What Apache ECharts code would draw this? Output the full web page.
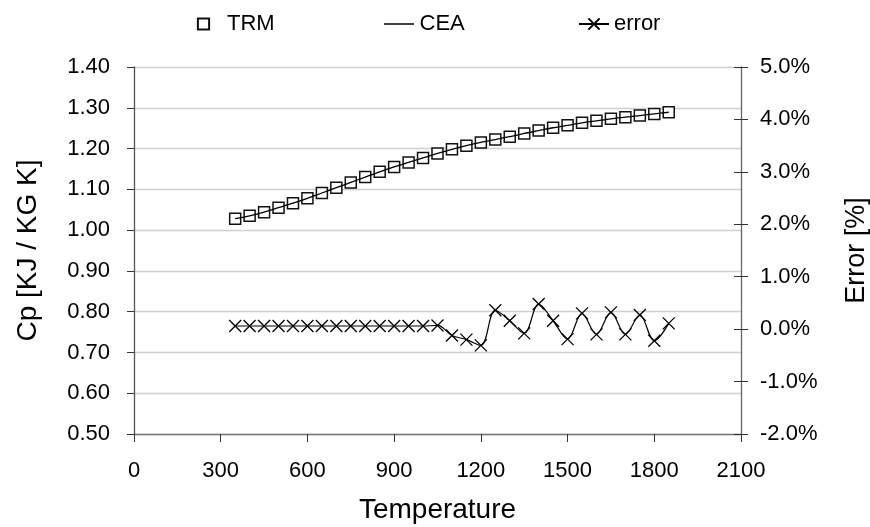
<!DOCTYPE html>
<html>
<head>
<meta charset="utf-8">
<script src="https://cdn.jsdelivr.net/npm/echarts@6/dist/echarts.min.js"></script>
<style>html,body{margin:0;padding:0;background:#fff}#c{width:870px;height:527px}</style>
</head>
<body>
<div id="c"></div>
<script>
var temps = [350,400,450,500,550,600,650,700,750,800,850,900,950,1000,1050,1100,1150,1200,1250,1300,1350,1400,1450,1500,1550,1600,1650,1700,1750,1800,1850];
var trm = [1.028,1.035,1.044,1.055,1.066,1.078,1.091,1.104,1.117,1.130,1.143,1.155,1.166,1.177,1.188,1.198,1.207,1.215,1.222,1.229,1.237,1.244,1.251,1.257,1.263,1.268,1.273,1.277,1.281,1.285,1.289];
var cea = [1.028,1.035,1.044,1.055,1.066,1.078,1.091,1.104,1.117,1.130,1.143,1.155,1.166,1.177,1.188,1.198,1.207,1.215,1.222,1.229,1.237,1.244,1.251,1.257,1.263,1.268,1.273,1.277,1.281,1.285,1.289];
var errPct = [0.06,0.06,0.06,0.06,0.06,0.06,0.06,0.06,0.06,0.06,0.06,0.06,0.06,0.06,0.07,-0.12,-0.20,-0.31,0.36,0.16,-0.08,0.48,0.16,-0.19,0.30,-0.10,0.32,-0.10,0.27,-0.22,0.11];
var xTicks = {min:0, max:2100, interval:300};
var leftTicks = {min:0.5, max:1.4, interval:0.1};
var rightTicks = {min:-2, max:5, interval:1};

function pairs(vals){ return temps.map(function(t,i){ return [t, vals[i]]; }); }

var font = 'Liberation Sans, Arial, Helvetica, sans-serif';
var chart = echarts.init(document.getElementById('c'), null, {renderer:'canvas'});
var crossPath = 'path://M0,0L10,10M10,0L0,10';
var legendText = {fontSize:22, fontFamily:font, color:'#000'};
chart.setOption({
  animation: false,
  textStyle: {fontFamily: font, color:'#000'},
  legend: [
    {data:['TRM'], left:185, top:13, padding:0, itemWidth:37, itemHeight:14, textStyle:legendText},
    {data:[{name:'CEA', icon:'path://M0,0L30,0L30,1.5L0,1.5Z'}], left:384, top:13, padding:0, itemWidth:31, itemHeight:1.5, textStyle:legendText},
    {data:['error'], left:578, top:13, padding:0, itemWidth:30, itemHeight:14, textStyle:legendText}
  ],
  grid: {left:134, right:129, top:67, bottom:93, containLabel:false, outerBoundsMode:'none'},
  xAxis: {
    type:'value', min:xTicks.min, max:xTicks.max, interval:xTicks.interval,
    name:'Temperature', nameLocation:'middle', nameGap:62,
    nameTextStyle:{fontSize:28, fontFamily:font, color:'#000'},
    axisLine:{show:true, onZero:false, lineStyle:{color:'#777', width:1.3}},
    axisTick:{show:true, length:8, lineStyle:{color:'#333'}},
    axisLabel:{fontSize:22, margin:26, color:'#000', fontFamily:font, formatter:function(v){return String(v);}},
    splitLine:{show:false}
  },
  yAxis: [
    {
      type:'value', min:leftTicks.min, max:leftTicks.max, interval:leftTicks.interval, position:'left',
      name:'Cp [KJ / KG K]', nameLocation:'middle', nameGap:92, nameRotate:90,
      nameTextStyle:{fontSize:28, fontFamily:font, color:'#000'},
      axisLine:{show:true, onZero:false, lineStyle:{color:'#555', width:1.3}},
      axisTick:{show:true, length:7, lineStyle:{color:'#333'}},
      axisLabel:{fontSize:22, margin:24, color:'#000', fontFamily:font, formatter:function(v){return v.toFixed(2);}},
      splitLine:{show:true, lineStyle:{color:'#cfcfcf', width:1.3}}
    },
    {
      type:'value', min:rightTicks.min, max:rightTicks.max, interval:rightTicks.interval, position:'right',
      name:'Error [%]', nameLocation:'middle', nameGap:102, nameRotate:90,
      nameTextStyle:{fontSize:27, fontFamily:font, color:'#000'},
      axisLine:{show:true, onZero:false, lineStyle:{color:'#666', width:1.3}},
      axisTick:{show:true, length:7, lineStyle:{color:'#333'}},
      axisLabel:{fontSize:22, margin:19, color:'#000', fontFamily:font, formatter:function(v){return v.toFixed(1)+'%';}},
      splitLine:{show:false}
    },
    {
      type:'value', min:rightTicks.min, max:rightTicks.max, interval:rightTicks.interval, position:'right',
      axisLine:{show:false, onZero:false},
      axisTick:{show:true, inside:true, length:7, lineStyle:{color:'#333'}},
      axisLabel:{show:false},
      splitLine:{show:false}
    }
  ],
  series: [
    {
      name:'TRM', type:'line', yAxisIndex:0, data:pairs(trm),
      symbol:'rect', symbolSize:11,
      itemStyle:{color:'#fff', borderColor:'#111', borderWidth:1.5},
      lineStyle:{width:0, opacity:0}, z:3
    },
    {
      name:'CEA', type:'line', yAxisIndex:0, data:pairs(cea),
      symbol:'none', smooth:0.3,
      lineStyle:{color:'#000', width:1.3}, itemStyle:{color:'#000'}, z:4
    },
    {
      name:'error', type:'line', yAxisIndex:1, data:pairs(errPct),
      symbol:crossPath, symbolSize:12, smooth:0.35,
      itemStyle:{color:'#000', borderColor:'#000', borderWidth:1.3},
      lineStyle:{color:'#000', width:1.2}, z:3
    }
  ]
});
</script>
</body>
</html>
